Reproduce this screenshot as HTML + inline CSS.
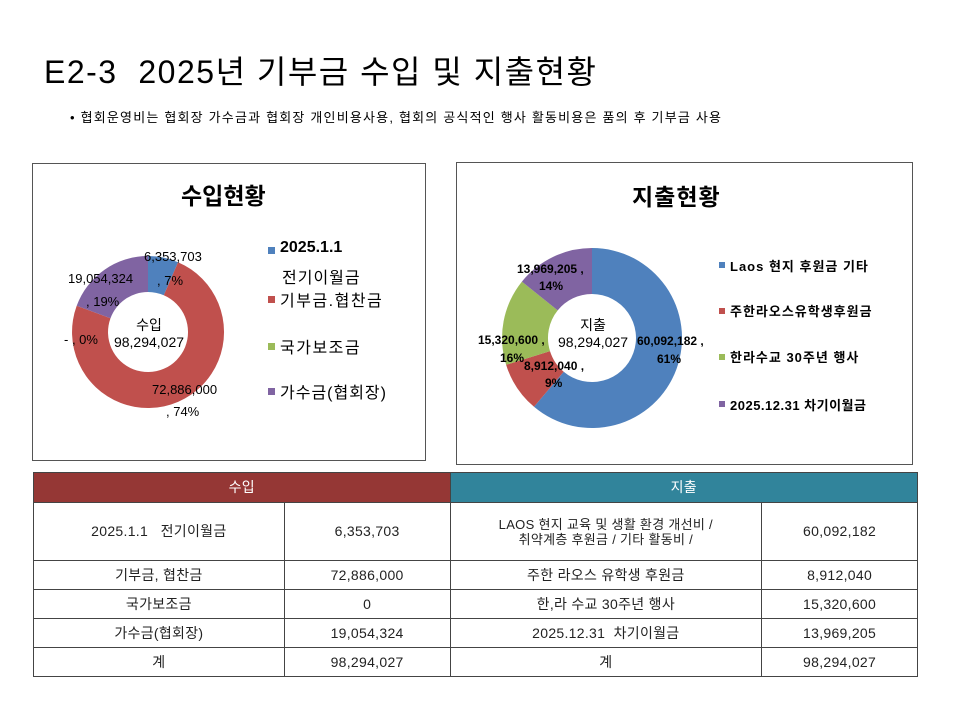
<!DOCTYPE html>
<html><head><meta charset="utf-8"><style>
body{margin:0;width:960px;height:720px;background:#fff;position:relative;overflow:hidden;font-family:"Liberation Sans","Noto Sans CJK KR",sans-serif;color:#000}
.a{position:absolute;white-space:nowrap}
.box{position:absolute;border:1px solid #555;background:#fff}
table{position:absolute;left:33px;top:472px;width:885px;border-collapse:collapse;font-size:14px;font-family:"Liberation Sans","Noto Sans CJK KR",sans-serif;color:#222;letter-spacing:0.3px}
td{border:1px solid #444;text-align:center;padding:0;line-height:15px}
</style></head><body>
<div class="a" style="left:44px;top:47px;font-size:32px;letter-spacing:1.5px">E2-3&nbsp; 2025년 기부금 수입 및 지출현황</div>
<div class="a" style="left:70px;top:107px;font-size:13px;letter-spacing:1.2px">• 협회운영비는 협회장 가수금과 협회장 개인비용사용, 협회의 공식적인 행사 활동비용은 품의 후 기부금 사용</div>

<div class="box" style="left:32px;top:163px;width:392px;height:296px"></div>
<div class="box" style="left:456px;top:162px;width:455px;height:301px"></div>

<svg class="a" style="left:0;top:0" width="960" height="720">
<path d="M148,256 A76 76 0 0 1 178.06,262.2 L163.8,295.3 A40 40 0 0 0 148,292 Z" fill="#4f81bd"/>
<path d="M178.06,262.2 A76 76 0 1 1 76.7,305.8 L110.5,318.2 A40 40 0 1 0 163.8,295.3 Z" fill="#c0504d"/>
<path d="M76.7,305.8 A76 76 0 0 1 148,256 L148,292 A40 40 0 0 0 110.5,318.2 Z" fill="#8064a2"/>
<path d="M592,248 A90 90 0 1 1 534.0,406.8 L563.7,371.7 A44 44 0 1 0 592,294 Z" fill="#4f81bd"/>
<path d="M534.0,406.8 A90 90 0 0 1 506.1,364.8 L550.0,351.1 A44 44 0 0 0 563.7,371.7 Z" fill="#c0504d"/>
<path d="M506.1,364.8 A90 90 0 0 1 521.9,281.6 L557.7,310.4 A44 44 0 0 0 550.0,351.1 Z" fill="#9bbb59"/>
<path d="M521.9,281.6 A90 90 0 0 1 592,248 L592,294 A44 44 0 0 0 557.7,310.4 Z" fill="#8064a2"/>
<rect x="268" y="247" width="7" height="7" fill="#4f81bd"/>
<rect x="268" y="296" width="7" height="7" fill="#c0504d"/>
<rect x="268" y="343" width="7" height="7" fill="#9bbb59"/>
<rect x="268" y="388" width="7" height="7" fill="#8064a2"/>
<rect x="719" y="262" width="6" height="6" fill="#4f81bd"/>
<rect x="719" y="308" width="6" height="6" fill="#c0504d"/>
<rect x="719" y="354" width="6" height="6" fill="#9bbb59"/>
<rect x="719" y="401" width="6" height="6" fill="#8064a2"/>
</svg>

<div class="a" style="left:181px;top:177px;font-size:23px;font-weight:bold">수입현황</div>
<div class="a" style="left:144px;top:249px;font-size:13px">6,353,703</div>
<div class="a" style="left:157px;top:273px;font-size:13px">, 7%</div>
<div class="a" style="left:68px;top:271px;font-size:13px">19,054,324</div>
<div class="a" style="left:86px;top:294px;font-size:13px">, 19%</div>
<div class="a" style="left:64px;top:332px;font-size:13px">- , 0%</div>
<div class="a" style="left:152px;top:382px;font-size:13px">72,886,000</div>
<div class="a" style="left:166px;top:404px;font-size:13px">, 74%</div>
<div class="a" style="left:106px;top:317px;width:86px;text-align:center;font-size:14px;line-height:17px">수입<br>98,294,027</div>
<div class="a" style="left:280px;top:239px;font-size:16px;font-weight:bold">2025.1.1</div>
<div class="a" style="left:282px;top:264px;font-size:16px;letter-spacing:1px">전기이월금</div>
<div class="a" style="left:280px;top:287px;font-size:16px;letter-spacing:1.5px">기부금.협찬금</div>
<div class="a" style="left:280px;top:334px;font-size:16px;letter-spacing:1.5px">국가보조금</div>
<div class="a" style="left:280px;top:379px;font-size:16px;letter-spacing:1px">가수금(협회장)</div>

<div class="a" style="left:632px;top:178px;font-size:23px;font-weight:bold;letter-spacing:1px">지출현황</div>
<div class="a" style="left:517px;top:262px;font-size:12px;font-weight:bold">13,969,205 ,</div>
<div class="a" style="left:539px;top:279px;font-size:12px;font-weight:bold">14%</div>
<div class="a" style="left:478px;top:333px;font-size:12px;font-weight:bold">15,320,600 ,</div>
<div class="a" style="left:500px;top:351px;font-size:12px;font-weight:bold">16%</div>
<div class="a" style="left:524px;top:359px;font-size:12px;font-weight:bold">8,912,040 ,</div>
<div class="a" style="left:545px;top:376px;font-size:12px;font-weight:bold">9%</div>
<div class="a" style="left:637px;top:334px;font-size:12px;font-weight:bold">60,092,182 ,</div>
<div class="a" style="left:657px;top:352px;font-size:12px;font-weight:bold">61%</div>
<div class="a" style="left:546px;top:317px;width:94px;text-align:center;font-size:14px;line-height:17px">지출<br>98,294,027</div>
<div class="a" style="left:730px;top:256px;font-size:13px;font-weight:bold;letter-spacing:1px">Laos 현지 후원금 기타</div>
<div class="a" style="left:730px;top:301px;font-size:13px;font-weight:bold;letter-spacing:1px">주한라오스유학생후원금</div>
<div class="a" style="left:730px;top:347px;font-size:13px;font-weight:bold;letter-spacing:1px">한라수교 30주년 행사</div>
<div class="a" style="left:730px;top:395px;font-size:13px;font-weight:bold;letter-spacing:0.5px">2025.12.31 차기이월금</div>

<table>
<colgroup><col style="width:251px"><col style="width:166px"><col style="width:312px"><col style="width:156px"></colgroup>
<tr style="height:30px"><td colspan="2" style="background:#953735;color:#fff">수입</td><td colspan="2" style="background:#31849b;color:#fff">지출</td></tr>
<tr style="height:58px"><td>2025.1.1&nbsp;&nbsp; 전기이월금</td><td>6,353,703</td><td style="font-size:13px">LAOS 현지 교육 및 생활 환경 개선비 /<br>취약계층 후원금 / 기타 활동비 /</td><td>60,092,182</td></tr>
<tr style="height:29px"><td>기부금, 협찬금</td><td>72,886,000</td><td>주한 라오스 유학생 후원금</td><td>8,912,040</td></tr>
<tr style="height:29px"><td>국가보조금</td><td>0</td><td>한,라 수교 30주년 행사</td><td>15,320,600</td></tr>
<tr style="height:29px"><td>가수금(협회장)</td><td>19,054,324</td><td>2025.12.31&nbsp; 차기이월금</td><td>13,969,205</td></tr>
<tr style="height:29px"><td>계</td><td>98,294,027</td><td>계</td><td>98,294,027</td></tr>
</table>
</body></html>
